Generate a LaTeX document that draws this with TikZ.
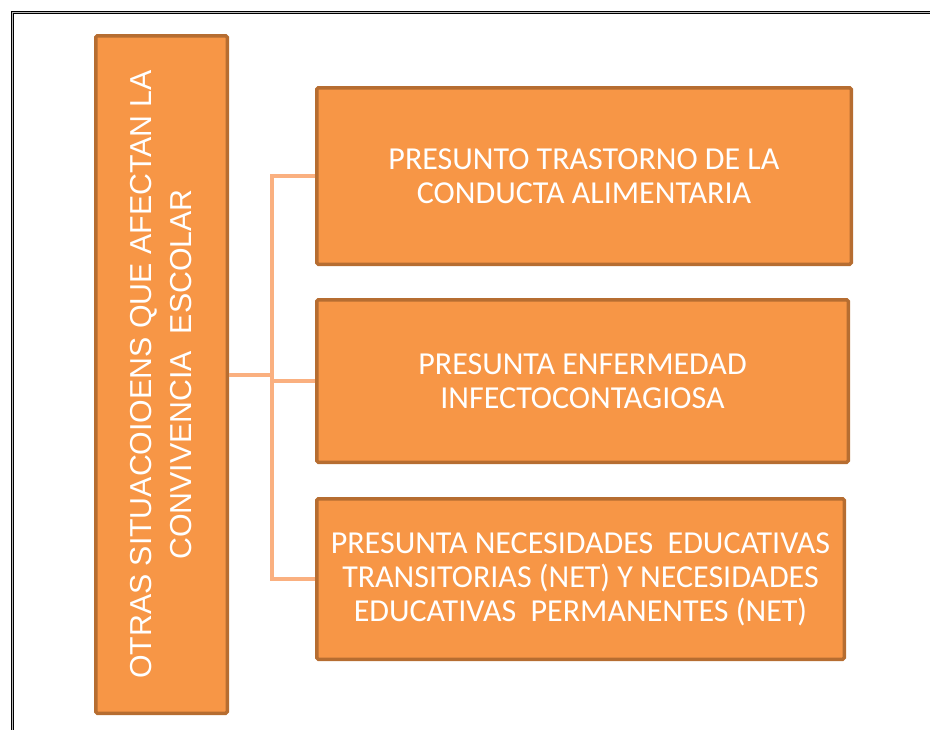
\documentclass[tikz,border=0pt]{standalone}
\usepackage{fontspec}
\setmainfont{Carlito}
\newfontfamily\vfont{Liberation Sans}
\definecolor{boxfill}{HTML}{F79646}
\definecolor{boxdraw}{HTML}{B66D31}
\definecolor{connc}{HTML}{FAB080}
\begin{document}
\begin{tikzpicture}[x=1pt,y=-1pt,
  obox/.style={draw=boxdraw,fill=boxfill,line width=3.5pt,rounded corners=1.5pt,inner sep=0pt,text=white,align=center},
  btext/.style={font=\fontsize{32}{34}\selectfont},
  conn/.style={draw=connc,line width=4pt}]
\useasboundingbox (0,0) rectangle (930,729);
\begin{scope}
\clip (0,0) rectangle (930,729);
\draw[draw=black,double=gray!55,double distance=1.6pt,line width=1.1pt] (12.5,12.5) rectangle (990,790);
\end{scope}
\node[obox,minimum width=131.5pt,minimum height=677.5pt] (L) at (161.5,374.5) {};
\node[text=white,rotate=90,align=center,font=\vfont\fontsize{30.3}{40}\selectfont] (Lt) at (L.center) {OTRAS SITUACOIOENS QUE AFECTAN LA\\CONVIVENCIA~ ESCOLAR};
\node[obox,btext,minimum width=534.5pt,minimum height=176.5pt] (B1) at (584,176) {PRESUNTO TRASTORNO DE LA\\CONDUCTA ALIMENTARIA};
\node[obox,btext,minimum width=531.5pt,minimum height=162.5pt] (B2) at (582.5,381) {PRESUNTA ENFERMEDAD\\INFECTOCONTAGIOSA};
\node[obox,btext,minimum width=527.5pt,minimum height=160.5pt] (B3) at (580.5,579) {PRESUNTA NECESIDADES~ EDUCATIVAS\\TRANSITORIAS (NET) Y NECESIDADES\\EDUCATIVAS~ PERMANENTES (NET)};
\coordinate (jx) at (272,0);
\draw[conn] (L.east) -- (L.east -| jx);
\draw[conn] (B1.west) -- (B1.west -| jx) -- (B3.west -| jx) -- (B3.west);
\draw[conn] (B2.west) -- (B2.west -| jx);
\end{tikzpicture}
\end{document}
